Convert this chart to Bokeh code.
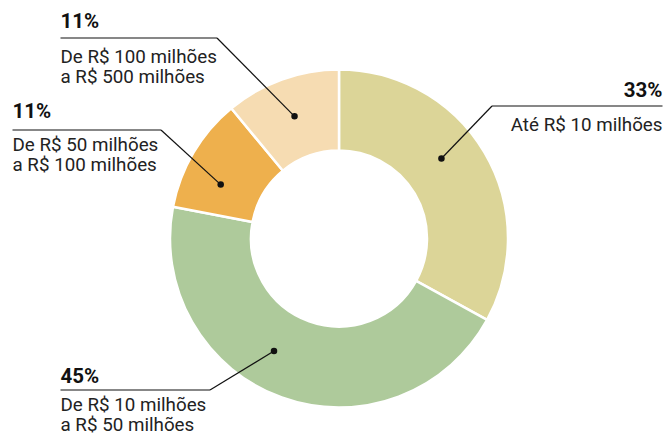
import math
from bokeh.plotting import figure
from bokeh.models import Range1d
from bokeh.core.properties import value
from bokeh.embed import file_html
from bokeh.resources import INLINE

# Revenue bands and their share of companies (%)
bands = [
    ["Até R$ 10 milhões"],
    ["De R$ 10 milhões", "a R$ 50 milhões"],
    ["De R$ 50 milhões", "a R$ 100 milhões"],
    ["De R$ 100 milhões", "a R$ 500 milhões"],
]
shares = [33, 45, 11, 11]
colors = ["#dcd598", "#aeca9b", "#eeb04d", "#f6dcb2"]

W, H = 665, 435
CX, CY = 338.5, H - 238
R_IN, R_OUT = 88, 169
DOT_R = 130

PCT_FS, BODY_FS = 20.5, 18.8
# the SVG text baseline sits a little below the anchor; compensate per size
SHIFT = 0.37

# Callout layout per band: dot angle (deg, clockwise from top), text x, align,
# percent baseline, rule y, elbow x, body baselines (all in page pixels from top)
callouts = [
    dict(ang=52, x=662, align="right", pct_y=97, rule_y=105.5, elbow=491.5, body=[131.5]),
    dict(ang=210, x=60, align="left", pct_y=383.5, rule_y=389.5, elbow=209.5, body=[411.5, 431.5]),
    dict(ang=294.5, x=12, align="left", pct_y=118.5, rule_y=129.5, elbow=160.5, body=[151.5, 171.5]),
    dict(ang=340, x=60, align="left", pct_y=28.5, rule_y=37.5, elbow=216.5, body=[63.5, 83.5]),
]

p = figure(width=W, height=H, output_backend="svg", toolbar_location=None,
           x_range=Range1d(0, W), y_range=Range1d(0, H),
           min_border=0, outline_line_color=None)
p.axis.visible = False
p.grid.visible = False
p.background_fill_color = "white"
p.border_fill_color = "white"

total = sum(shares)
cum = 0.0
starts, ends = [], []
for s in shares:
    starts.append(math.pi / 2 - 2 * math.pi * cum / total)
    cum += s
    ends.append(math.pi / 2 - 2 * math.pi * cum / total)

p.annular_wedge(x=CX, y=CY, inner_radius=R_IN, outer_radius=R_OUT,
                start_angle=starts, end_angle=ends, direction="clock",
                fill_color=colors, line_color="white", line_width=2.5)

FONT = value("Roboto")
for share, lines, c in zip(shares, bands, callouts):
    a = math.radians(c["ang"])
    dx = CX + DOT_R * math.sin(a)
    dy = CY + DOT_R * math.cos(a)
    ry = H - c["rule_y"]
    if c["align"] == "right":
        rx0, rx1 = c["elbow"], c["x"]
    else:
        rx0, rx1 = c["x"], c["elbow"]
    p.line([rx0, rx1], [ry, ry], line_color="#111111", line_width=1.2)
    p.line([c["elbow"], dx], [ry, dy], line_color="#111111", line_width=1.2)
    p.scatter([dx], [dy], size=6.5, fill_color="#111111", line_color=None)
    p.text([c["x"]], [H - c["pct_y"] + SHIFT * PCT_FS], text=[f"{share}%"],
           text_font=FONT, text_font_style="bold", text_font_size=f"{PCT_FS}px",
           text_color="#111111", text_align=c["align"], text_baseline="alphabetic")
    for line, by in zip(lines, c["body"]):
        p.text([c["x"]], [H - by + SHIFT * BODY_FS], text=[line], text_font=FONT,
               text_font_size=f"{BODY_FS}px", text_color="#222222",
               text_align=c["align"], text_baseline="alphabetic")

open("out.html", "w").write(file_html(p, INLINE))
